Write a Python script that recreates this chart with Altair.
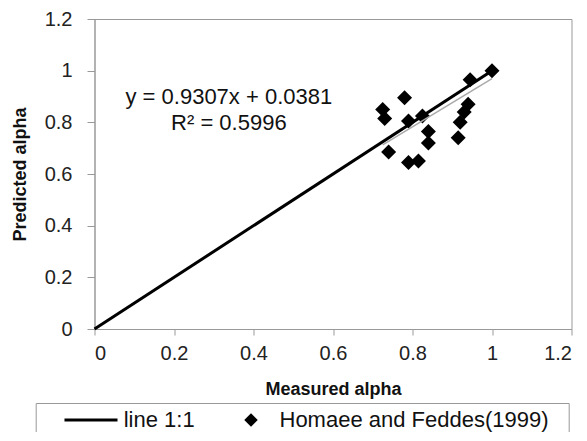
import altair as alt
import pandas as pd

# ---- data ----
measured = [1.00, 0.945, 0.78, 0.725, 0.73, 0.79, 0.825, 0.84, 0.84, 0.74, 0.79, 0.815, 0.94, 0.93, 0.92, 0.915]
predicted = [1.00, 0.965, 0.895, 0.85, 0.815, 0.805, 0.825, 0.765, 0.72, 0.685, 0.645, 0.65, 0.87, 0.84, 0.80, 0.74]
one_to_one = [0.0, 1.0]
trend_x = [0.725, 1.0]
slope = 0.9307
intercept = 0.0381
eq_lines = ["y = 0.9307x + 0.0381", "R\u00b2 = 0.5996"]
eq_x = [0.338, 0.338]
eq_y = [0.898, 0.797]
series = ["line 1:1", "Homaee and Feddes(1999)"]
ticks = [0, 0.2, 0.4, 0.6, 0.8, 1.0, 1.2]

FONT = "Liberation Sans"
# legend symbols (unit-square paths, scaled by the legend symbol size)
line_path = "M1.57,-0.2H8.64V0.2H1.57Z"
diamond_path = "M5.67,-0.9L6.57,0L5.67,0.9L4.77,0Z"
point_path = "M0,-1L1,0L0,1L-1,0Z"

pts = pd.DataFrame({"m": measured, "p": predicted, "series": series[1]})
one = pd.DataFrame({"m": one_to_one, "p": one_to_one})
trend = pd.DataFrame({"m": trend_x})
eq = pd.DataFrame({"m": eq_x, "p": eq_y, "t": eq_lines})

xs = alt.Scale(domain=[0, 1.2], nice=False, zero=False)
ys = alt.Scale(domain=[0, 1.2], nice=False, zero=False)

xax = alt.Axis(values=ticks, format=".1~f", title="Measured alpha", grid=False,
               domainColor="#999", tickColor="#999", tickSize=6, labelPadding=8,
               labelFont=FONT, labelFontSize=20, labelColor="#222",
               titleFont=FONT, titleFontSize=18, titleFontWeight="bold", titleColor="#111",
               titleY=60, titleBaseline="middle")
yax = alt.Axis(values=ticks, format=".1~f", title="Predicted alpha", grid=False,
               domainColor="#999", tickColor="#999", tickSize=7.5, labelPadding=15,
               labelFont=FONT, labelFontSize=20, labelColor="#222",
               titleFont=FONT, titleFontSize=18, titleFontWeight="bold", titleColor="#111",
               titleX=-74, titleY=155, titleBaseline="middle", titleAngle=-90)

legend = alt.Legend(title="\u00a0", titleOrient="right", titleFontSize=10, titlePadding=14,
                    orient="none", legendX=-58.8, legendY=384,
                    direction="horizontal", strokeColor="#999", padding=6,
                    labelFont=FONT, labelFontSize=22, labelColor="#111", labelLimit=500,
                    symbolStrokeWidth=0, symbolFillColor="black",
                    symbolOpacity=1, symbolSize=225,
                    columnPadding=2.8, labelOffset=60)

legend_layer = alt.Chart(pts).mark_point(filled=True, color="black", size=225, opacity=0).encode(
    x=alt.X("m:Q", scale=xs, axis=xax),
    y=alt.Y("p:Q", scale=ys, axis=yax),
    shape=alt.Shape("series:N",
                    scale=alt.Scale(domain=series, range=[line_path, diamond_path]),
                    legend=legend),
)

points = alt.Chart(pts).mark_point(filled=True, color="black", size=225, opacity=1,
                                   shape=point_path).encode(
    x=alt.X("m:Q", scale=xs), y=alt.Y("p:Q", scale=ys))

line11 = alt.Chart(one).mark_line(color="black", strokeWidth=3).encode(
    x=alt.X("m:Q", scale=xs), y=alt.Y("p:Q", scale=ys))

trendline = alt.Chart(trend).transform_calculate(
    p=f"{slope} * datum.m + {intercept}"
).mark_line(color="#aaa", strokeWidth=1.5).encode(
    x=alt.X("m:Q", scale=xs), y=alt.Y("p:Q", scale=ys))

text = alt.Chart(eq).mark_text(font=FONT, fontSize=22, color="#111", align="center", baseline="middle").encode(
    x=alt.X("m:Q", scale=xs), y=alt.Y("p:Q", scale=ys), text="t:N")

chart = alt.layer(legend_layer, points, line11, trendline, text).properties(
    width=477, height=310,
    autosize=alt.AutoSizeParams(type="none"),
    padding={"left": 86.5, "top": 11, "right": 7.5, "bottom": 103},
).configure_view(stroke="#999", strokeWidth=1)

chart.save("out.html", embed_options={"renderer": "svg", "actions": False})
